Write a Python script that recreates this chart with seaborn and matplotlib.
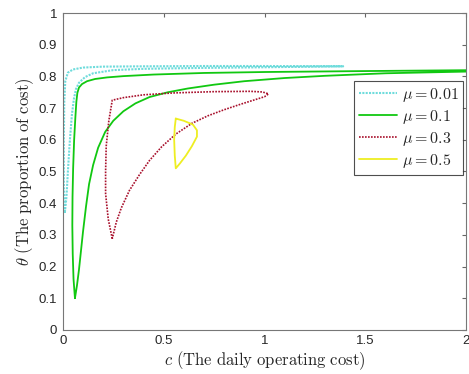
import numpy as np
import pandas as pd
import matplotlib
matplotlib.use("Agg")
import matplotlib.pyplot as plt
import seaborn as sns

# Curvas cerradas (c, theta)
c_mu001 = [0.010, 0.005, 0.005, 0.007, 0.012, 0.025, 0.05, 0.10, 0.20, 0.40, 0.70, 1.00, 1.39,
           1.00, 0.70, 0.40, 0.25, 0.15, 0.11, 0.08, 0.065, 0.055, 0.045, 0.035, 0.025, 0.018, 0.010]
t_mu001 = [0.370, 0.45, 0.60, 0.72, 0.785, 0.812, 0.822, 0.828, 0.831, 0.832, 0.833, 0.833, 0.832,
           0.829, 0.827, 0.824, 0.820, 0.810, 0.798, 0.78, 0.76, 0.73, 0.68, 0.60, 0.50, 0.42, 0.370]

c_mu01 = [0.060, 0.053, 0.049, 0.047, 0.048, 0.051, 0.056, 0.062, 0.067, 0.072, 0.080, 0.095, 0.12,
          0.16, 0.22, 0.30, 0.45, 0.70, 1.00, 1.50, 2.05,
          2.05, 1.60, 1.30, 1.10, 0.90, 0.75, 0.62, 0.52, 0.43, 0.36, 0.30, 0.25, 0.21, 0.175, 0.15,
          0.13, 0.115, 0.10, 0.09, 0.08, 0.07, 0.060]
t_mu01 = [0.100, 0.16, 0.24, 0.33, 0.42, 0.51, 0.60, 0.67, 0.72, 0.748, 0.765, 0.776, 0.785,
          0.792, 0.797, 0.801, 0.806, 0.811, 0.814, 0.817, 0.820,
          0.816, 0.810, 0.802, 0.795, 0.785, 0.774, 0.762, 0.750, 0.735, 0.715, 0.690, 0.660, 0.625,
          0.575, 0.520, 0.460, 0.390, 0.310, 0.250, 0.190, 0.140, 0.100]

c_mu03 = [0.245, 0.225, 0.212, 0.212, 0.215, 0.228, 0.245, 0.30, 0.40, 0.55, 0.75, 0.93, 0.99, 1.02,
          1.00, 0.95, 0.88, 0.80, 0.72, 0.64, 0.56, 0.49, 0.43, 0.38, 0.33, 0.29, 0.265, 0.245]
t_mu03 = [0.288, 0.35, 0.43, 0.50, 0.58, 0.66, 0.725, 0.733, 0.742, 0.748, 0.752, 0.753, 0.751, 0.745,
          0.736, 0.726, 0.712, 0.695, 0.676, 0.652, 0.618, 0.578, 0.535, 0.490, 0.440, 0.385, 0.340, 0.288]

c_mu05 = [0.56, 0.60, 0.645, 0.665, 0.665, 0.64, 0.61, 0.58, 0.56, 0.555, 0.552, 0.555, 0.56]
t_mu05 = [0.667, 0.66, 0.648, 0.63, 0.61, 0.58, 0.55, 0.525, 0.51, 0.55, 0.60, 0.64, 0.667]

etiquetas = [r"$\mu = 0.01$", r"$\mu = 0.1$", r"$\mu = 0.3$", r"$\mu = 0.5$"]
colores = ["#6fdcdc", "#11c811", "#a8102c", "#eeee22"]
estilos = [(0, (1, 0.6)), "-", (0, (1, 0.8)), "-"]
anchos = [1.5, 1.3, 1.2, 1.3]

curvas = [(c_mu001, t_mu001), (c_mu01, t_mu01), (c_mu03, t_mu03), (c_mu05, t_mu05)]

sns.set_style("white")
plt.rcParams["mathtext.fontset"] = "cm"
plt.rcParams["font.family"] = ["Liberation Sans", "DejaVu Sans"]

fig = plt.figure(figsize=(4.69, 3.74), dpi=100)
ax = fig.add_axes([0.134, 0.118, 0.860, 0.847])

for (cx, ty), lab, col, ls, lw in zip(curvas, etiquetas, colores, estilos, anchos):
    df = pd.DataFrame({"c": cx, "theta": ty})
    sns.lineplot(data=df, x="c", y="theta", sort=False, estimator=None, ax=ax,
                 color=col, linestyle=ls, linewidth=lw, label=lab)

ax.set_xlim(0, 2)
ax.set_ylim(0, 1)
ax.set_xticks([0, 0.5, 1, 1.5, 2])
ax.set_xticklabels(["0", "0.5", "1", "1.5", "2"])
ax.set_yticks(np.round(np.arange(0, 1.01, 0.1), 1))
ax.set_yticklabels(["0", "0.1", "0.2", "0.3", "0.4", "0.5", "0.6", "0.7", "0.8", "0.9", "1"])
ax.tick_params(direction="in", length=3, width=0.8, color="#666666", labelsize=9.5,
               top=True, right=True, pad=4)
for s in ax.spines.values():
    s.set_color("#777777")
    s.set_linewidth(0.8)

ax.set_xlabel(r"$c\ \mathrm{(The\ daily\ operating\ cost)}$", fontsize=12, labelpad=1)
ax.set_ylabel(r"$\theta\ \mathrm{(The\ proportion\ of\ cost)}$", fontsize=12, labelpad=2)

leg = ax.legend(loc="upper right", bbox_to_anchor=(0.993, 0.785), fontsize=11.5,
                frameon=True, fancybox=False, edgecolor="#222222", handlelength=2.4,
                handletextpad=0.3, borderpad=0.3, labelspacing=0.25, borderaxespad=0)
leg.get_frame().set_linewidth(0.8)

plt.savefig("out.png", dpi=100)
plt.close()
